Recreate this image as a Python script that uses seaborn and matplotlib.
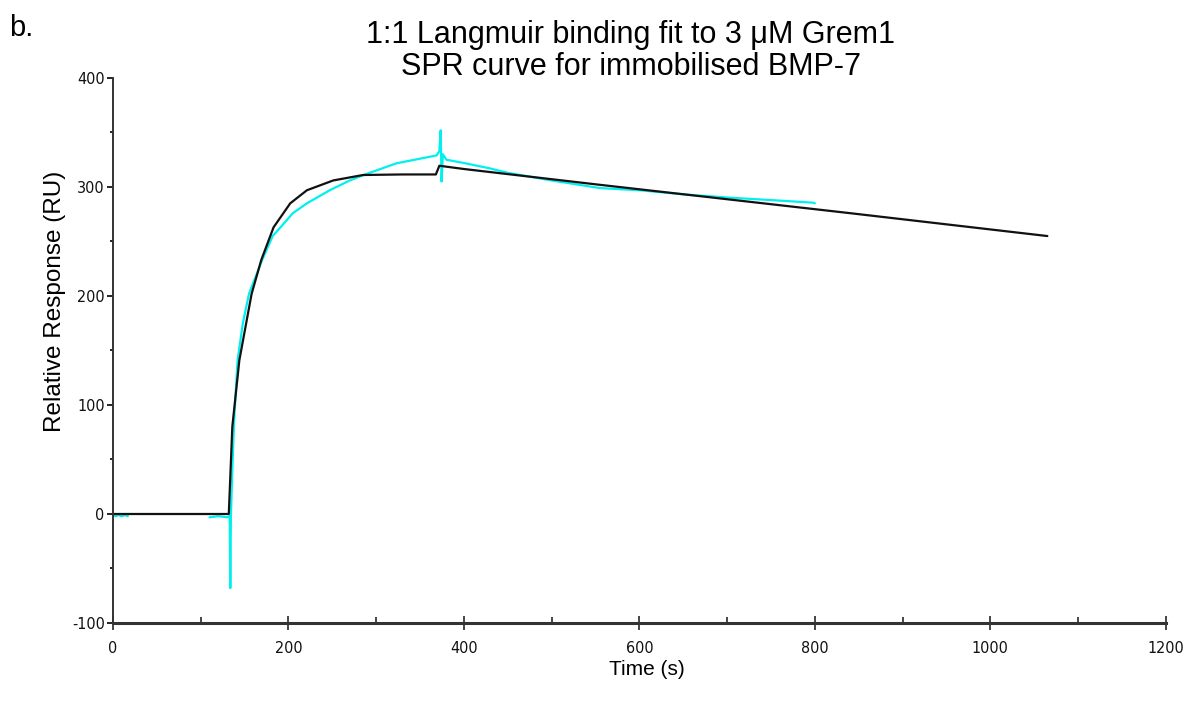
import numpy as np
import pandas as pd
import matplotlib
matplotlib.use("Agg")
import matplotlib.pyplot as plt
from matplotlib.ticker import MultipleLocator
from matplotlib import font_manager
import seaborn as sns

# ---- data ----
# measured SPR sensorgram (cyan), two recorded segments
data_seg1_t = [0, 3, 6, 10, 14, 17]
data_seg1_r = [-1, -2, -1, -2, -1, -2]
data_seg2_t = [110, 120, 130, 133, 133.7, 134.4, 136, 138, 142, 148, 155, 170, 182, 192,
               205, 221, 247, 270, 289, 323, 369, 372, 373.5, 374.5, 376, 380, 400, 430,
               450, 500, 555, 600, 654, 707, 750, 798, 800]
data_seg2_r = [-3, -2, -3, -2, -68, -2, 40, 85, 141, 175, 202, 233, 255, 264,
               276, 285, 297, 306, 312, 321.7, 329, 333, 352, 305, 330, 325, 322, 317,
               313, 306, 299, 297, 293, 290, 288, 285.6, 285]
# 1:1 Langmuir fit (black)
fit_t = [0, 132, 136, 144, 158, 169, 183, 202, 221, 251, 285, 330, 368, 372, 400, 555, 840, 1065]
fit_r = [0, 0, 80, 141, 202, 233, 263, 285, 297, 306, 311, 311.5, 311.5, 319.5, 316.5, 302, 276, 255]

title_lines = ["1:1 Langmuir binding fit to 3 \u03bcM Grem1", "SPR curve for immobilised BMP-7"]
x_label = "Time (s)"
y_label = "Relative Response (RU)"
panel_label = "b."

# ---- plotting ----
sns.set_style("ticks")
plt.rcParams['font.family'] = ['Liberation Sans', 'DejaVu Sans']

names = {f.name for f in font_manager.fontManager.ttflist}
if 'Liberation Sans Narrow' in names:
    tick_font = dict(family='Liberation Sans Narrow')
else:
    tick_font = dict(family='DejaVu Sans', stretch='condensed')

df_data = pd.DataFrame({
    "t": data_seg1_t + data_seg2_t,
    "r": data_seg1_r + data_seg2_r,
    "seg": [1] * len(data_seg1_t) + [2] * len(data_seg2_t),
})
df_fit = pd.DataFrame({"t": fit_t, "r": fit_r, "seg": [1] * len(fit_t)})

fig = plt.figure(figsize=(11.92, 7.09), dpi=100)
ax = fig.add_axes([0.0948, 0.1213, 0.8832, 0.7687])

sns.lineplot(data=df_data, x="t", y="r", units="seg", estimator=None, sort=False,
             color="#00F0F0", linewidth=1.6, ax=ax)
sns.lineplot(data=df_fit, x="t", y="r", units="seg", estimator=None, sort=False,
             color="#111111", linewidth=1.6, ax=ax)

ax.set_xlim(0, 1200)
ax.set_ylim(-100, 400)
ax.xaxis.set_major_locator(MultipleLocator(200))
ax.xaxis.set_minor_locator(MultipleLocator(100))
ax.yaxis.set_major_locator(MultipleLocator(100))
ax.yaxis.set_minor_locator(MultipleLocator(50))
ax.set_xlabel("")
ax.set_ylabel("")
sns.despine(ax=ax)
ax.spines['bottom'].set_linewidth(2.2)
ax.spines['bottom'].set_color('#333333')
ax.spines['left'].set_linewidth(1.4)
ax.spines['left'].set_color('#333333')
ax.tick_params(axis='x', which='major', direction='inout', length=10, width=1.2, pad=8)
ax.tick_params(axis='x', which='minor', direction='in', length=4, width=1.2)
ax.tick_params(axis='y', which='major', direction='out', length=4, width=1.4, pad=2)
ax.tick_params(axis='y', which='minor', direction='out', length=2, width=1.4)
ax.set_xticks(ax.get_xticks())
ax.set_xticklabels([f"{int(v)}" for v in ax.get_xticks()], fontsize=11.5, color='#111111', **tick_font)
ax.set_yticks(ax.get_yticks())
ax.set_yticklabels([f"{int(v)}" for v in ax.get_yticks()], fontsize=11.5, color='#111111', **tick_font)
ax.set_xlim(0, 1200)
ax.set_ylim(-100, 400)

fig.text(0.529, 0.950, title_lines[0], ha='center', va='center', fontsize=22, color='black')
fig.text(0.529, 0.905, title_lines[1], ha='center', va='center', fontsize=22, color='black')
fig.text(0.008, 0.960, panel_label, ha='left', va='center', fontsize=21, color='black')
fig.text(0.543, 0.056, x_label, ha='center', va='center', fontsize=15, color='black')
fig.text(0.046, 0.5755, y_label, ha='center', va='center', rotation=90, fontsize=17.5, color='black')

fig.savefig("out.png", dpi=100)
